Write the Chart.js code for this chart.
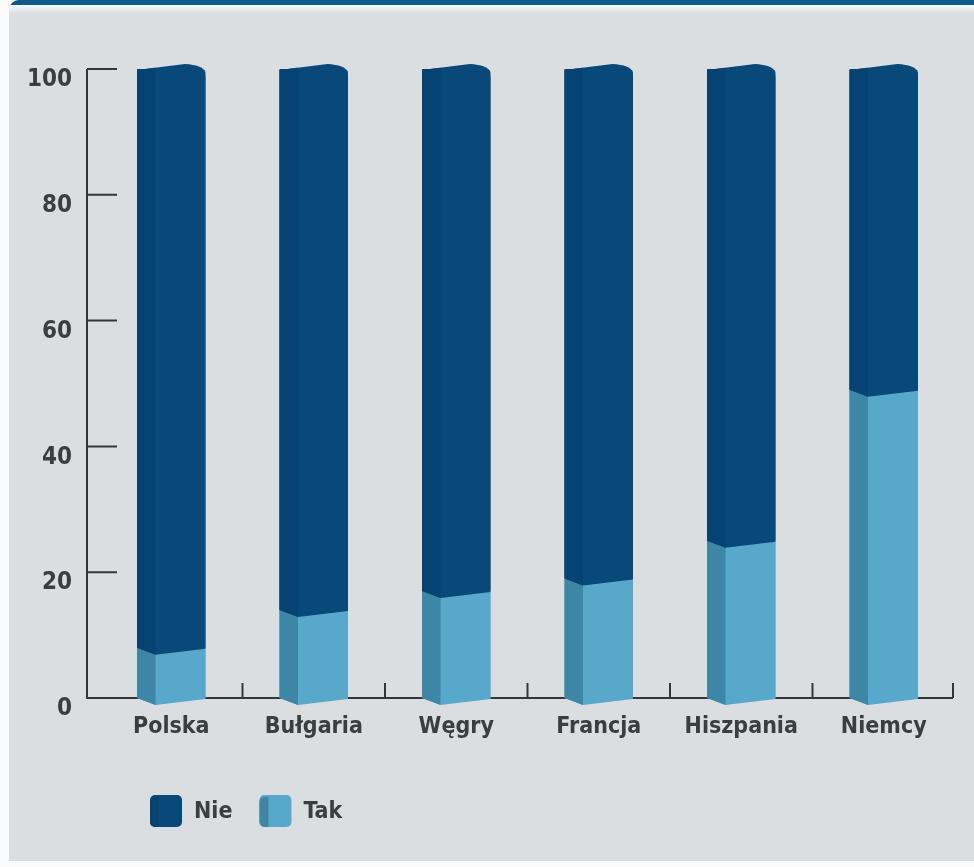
<!DOCTYPE html>
<html lang="pl">
<head>
<meta charset="utf-8">
<title>Tak / Nie</title>
<script src="https://cdn.jsdelivr.net/npm/chart.js@4.4.1/dist/chart.umd.min.js"></script>
<style>
  html, body { margin: 0; padding: 0; background: #fbfbfb; }
  #tlo {
    position: absolute; left: 9px; top: 0; width: 965px; height: 861px;
    background: #dbdee1;
    border-top-left-radius: 10px;
    overflow: hidden;
  }
  #pasek {
    position: absolute; left: 0; top: 0; width: 100%; height: 5px;
    background: #0d5b8b;
  }
  #blask {
    position: absolute; left: 0; top: 5px; width: 100%; height: 9px;
    background: linear-gradient(#f4fbfc, #dbdee1);
  }
  #wykres { position: absolute; left: 0; top: 0; }
</style>
</head>
<body>
<div id="tlo"><div id="pasek"></div><div id="blask"></div></div>
<canvas id="wykres" width="974" height="867"></canvas>
<script>
// dane (%)
const kraje = ['Polska', 'Bułgaria', 'Węgry', 'Francja', 'Hiszpania', 'Niemcy'];
const tak = [8, 14, 17, 19, 25, 49];
const nie = [92, 86, 83, 81, 75, 51];
const osY = [0, 20, 40, 60, 80, 100];

const NIE_PRZOD = '#08497a';
const NIE_BOK = '#064272';
const TAK_PRZOD = '#58a8cc';
const TAK_BOK = '#3e86a6';
const TEKST = '#3d3d3d';
const LINIA = '#363636';
const FONT = '"Liberation Sans Narrow", "DejaVu Sans Condensed", "Noto Sans", sans-serif';

// osie rysowane do srodka wykresu, jak w oryginale
const osie = {
    id: 'osie',
    beforeDatasetsDraw(chart) {
        const ctx = chart.ctx;
        const x = chart.scales.x, y = chart.scales.y;
        const lewo = chart.chartArea.left - 13;
        const prawo = chart.chartArea.right - 2;
        const dol = y.getPixelForValue(0);
        ctx.save();
        ctx.strokeStyle = LINIA;
        ctx.lineWidth = 2;
        ctx.beginPath();
        ctx.moveTo(lewo, y.getPixelForValue(100));
        ctx.lineTo(lewo, dol);
        ctx.lineTo(prawo, dol);
        osY.forEach(v => {
            const py = y.getPixelForValue(v);
            ctx.moveTo(lewo, py);
            ctx.lineTo(lewo + 30, py);
        });
        for (let i = 1; i <= kraje.length; i++) {
            let px = (x.getPixelForValue(i - 1) + x.getPixelForValue(i)) / 2;
            if (i === kraje.length) px = prawo;
            ctx.moveTo(px, dol);
            ctx.lineTo(px, dol - 15);
        }
        ctx.stroke();
        ctx.restore();
    }
};

// slupki z bocznym licem
const bryly = {
    id: 'bryly',
    afterDatasetsDraw(chart) {
        const ctx = chart.ctx;
        const ile = chart.data.datasets.length;
        ctx.save();
        chart.getSortedVisibleDatasetMetas().forEach(meta => {
            const ds = chart.data.datasets[meta.index];
            const ostatni = meta.index === ile - 1;
            meta.data.forEach(bar => {
                const w = bar.width;
                const L = bar.x - w / 2, R = bar.x + w / 2;
                const g = bar.y, d = bar.base;
                const s = w * 0.27, v = 7;
                const szczyt = L + w * 0.7;
                const gS = ostatni ? g + 1 - 6 * (s / (szczyt - L)) : g + v;

                ctx.beginPath();
                if (ostatni) {
                    ctx.moveTo(L, g + 1);
                    ctx.lineTo(szczyt, g - 5);
                    ctx.quadraticCurveTo(R - 3, g - 4, R, g + 3);
                } else {
                    ctx.moveTo(L, g);
                    ctx.lineTo(L + s, g + v);
                    ctx.lineTo(R, g + 1);
                }
                ctx.lineTo(R, d + 1);
                ctx.lineTo(L + s, d + v);
                ctx.lineTo(L, d);
                ctx.closePath();
                ctx.fillStyle = ds.backgroundColor;
                ctx.fill();

                ctx.beginPath();
                ctx.moveTo(L, ostatni ? g + 1 : g);
                ctx.lineTo(L + s, gS);
                ctx.lineTo(L + s, d + v);
                ctx.lineTo(L, d);
                ctx.closePath();
                ctx.fillStyle = ds.bok;
                ctx.fill();
            });
        });
        ctx.restore();
    }
};

// legenda w lewym dolnym rogu
const legenda = {
    id: 'legenda',
    afterDraw(chart) {
        const ctx = chart.ctx;
        let x = chart.chartArea.left + 50;
        const y = 811;
        ctx.save();
        ctx.font = 'bold 23px ' + FONT;
        ctx.textBaseline = 'middle';
        chart.data.datasets.slice().reverse().forEach(ds => {
            ctx.fillStyle = ds.backgroundColor;
            ctx.beginPath();
            ctx.roundRect(x, y - 16, 32, 32, 5);
            ctx.fill();
            ctx.fillStyle = ds.bok;
            ctx.beginPath();
            ctx.roundRect(x, y - 14, 9, 30, [5, 0, 0, 5]);
            ctx.fill();
            ctx.fillStyle = TEKST;
            ctx.fillText(ds.label, x + 44, y + 1);
            x += 44 + ctx.measureText(ds.label).width + 27;
        });
        ctx.restore();
    }
};

new Chart(document.getElementById('wykres'), {
    type: 'bar',
    data: {
        labels: kraje,
        datasets: [
            { label: 'Tak', data: tak, backgroundColor: TAK_PRZOD, bok: TAK_BOK },
            { label: 'Nie', data: nie, backgroundColor: NIE_PRZOD, bok: NIE_BOK,
              borderRadius: { topLeft: 0, topRight: 8, bottomLeft: 0, bottomRight: 0 } }
        ]
    },
    options: {
        responsive: false,
        animation: false,
        layout: { padding: { top: 69, right: 19, left: 0, bottom: 0 } },
        datasets: { bar: { categoryPercentage: 1, barPercentage: 0.48 } },
        plugins: {
            legend: { display: false },
            tooltip: { enabled: false }
        },
        scales: {
            x: {
                stacked: true,
                grid: { display: false, drawTicks: false },
                border: { display: false },
                ticks: {
                    color: TEKST,
                    padding: 15,
                    font: { family: FONT, size: 23, weight: 'bold' }
                },
                afterFit: s => { s.height = 169; }
            },
            y: {
                stacked: true,
                min: 0,
                max: 100,
                grid: { display: false, drawTicks: false },
                border: { display: false },
                afterBuildTicks: s => { s.ticks = osY.map(v => ({ value: v })); },
                ticks: {
                    color: TEKST,
                    padding: 28,
                    labelOffset: 11,
                    font: { family: FONT, size: 24, weight: 'bold' }
                },
                afterFit: s => { s.width = 100; }
            }
        }
    },
    plugins: [osie, bryly, legenda]
});
</script>
</body>
</html>
